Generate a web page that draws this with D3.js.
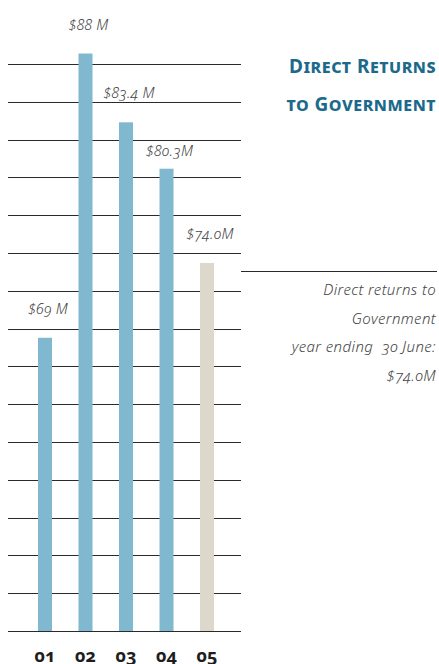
<!DOCTYPE html>
<html>
<head>
<meta charset="utf-8">
<script src="https://cdn.jsdelivr.net/npm/d3@7"></script>
<style>
  html, body { margin: 0; padding: 0; background: #fff; }
  svg { display: block; }
  text { font-family: "Noto Sans", "Open Sans", sans-serif; font-variant-numeric: oldstyle-nums; font-feature-settings: "onum" 1; }
</style>
</head>
<body>
<svg id="chart" width="439" height="664"></svg>
<script>
const years = ["01", "02", "03", "04", "05"];
const values = [69, 88, 83.4, 80.3, 74.0];
const valueLabels = ["$69 M", "$88 M", "$83.4 M", "$80.3M", "$74.0M"];
const barColors = ["#80b8cf", "#80b8cf", "#80b8cf", "#80b8cf", "#ddd8cc"];
const gridLines = d3.range(16);
const titleLines = ["Direct Returns", "to Government"];
const noteLines = ["Direct returns to", "Government", "year ending  30 June:", "$74.0M"];

const svg = d3.select("#chart");
const plot = { left: 8, right: 241, top: 64, bottom: 631 };

const x = d3.scaleBand().domain(years).range([24.75, 227.25]).paddingInner(0.654).paddingOuter(0.327);
const y = d3.scaleLinear().domain([49.4, 87.7]).range([plot.bottom, 58]);
const g = d3.scaleLinear().domain([0, 15]).range([plot.bottom, plot.top]);
const gridY = gridLines.map(d => Math.round(g(d)) + 0.5);

svg.append("g").selectAll("line").data(gridY).join("line")
  .attr("x1", plot.left).attr("x2", plot.right)
  .attr("y1", d => d).attr("y2", d => d)
  .attr("stroke", "#2a2a2a").attr("stroke-width", 1.2);

svg.append("g").selectAll("rect").data(values).join("rect")
  .attr("x", (d, i) => x(years[i]))
  .attr("width", x.bandwidth())
  .attr("y", d => y(d))
  .attr("height", d => plot.bottom - y(d))
  .attr("fill", (d, i) => barColors[i]);

// place each value label above its bar, keeping it clear of the grid lines
function labelY(v) {
  const top = y(v);
  let base = top - 24;
  const hit = gridY.find(l => l >= base - 11 && l <= base + 4);
  if (hit !== undefined) {
    base = (hit + 15 <= top - 12) ? hit + 15 : hit - 5;
  }
  return base;
}

svg.append("g").selectAll("text").data(values).join("text")
  .attr("x", (d, i) => x(years[i]) + x.bandwidth() / 2 + 3)
  .attr("y", d => labelY(d))
  .attr("text-anchor", "middle")
  .attr("font-style", "italic")
  .attr("font-weight", 300)
  .attr("font-size", 14.5)
  .attr("letter-spacing", 0.3)
  .attr("fill", "#444")
  .text((d, i) => valueLabels[i]);

svg.append("g").selectAll("text").data(years).join("text")
  .attr("x", d => x(d) + x.bandwidth() / 2)
  .attr("y", 662)
  .attr("text-anchor", "middle")
  .attr("font-weight", "bold")
  .attr("font-size", 18)
  .attr("fill", "#1e1e1e")
  .text(d => d);

svg.append("g").selectAll("text").data(titleLines).join("text")
  .attr("x", 436)
  .attr("y", (d, i) => 73 + i * 38)
  .attr("text-anchor", "end")
  .attr("font-weight", "bold")
  .attr("font-size", 19)
  .attr("letter-spacing", 0.5)
  .style("font-variant-caps", "small-caps")
  .attr("fill", "#1b6a8b")
  .text(d => d);

svg.append("line")
  .attr("x1", 241).attr("x2", 437)
  .attr("y1", 271.5).attr("y2", 271.5)
  .attr("stroke", "#2a2a2a").attr("stroke-width", 1.2);

svg.append("g").selectAll("text").data(noteLines).join("text")
  .attr("x", 436)
  .attr("y", (d, i) => 295 + i * 28.5)
  .attr("text-anchor", "end")
  .attr("font-style", "italic")
  .attr("font-weight", 300)
  .attr("font-size", 15)
  .attr("letter-spacing", 0.4)
  .style("white-space", "pre")
  .attr("fill", "#444")
  .text(d => d);
</script>
</body>
</html>
